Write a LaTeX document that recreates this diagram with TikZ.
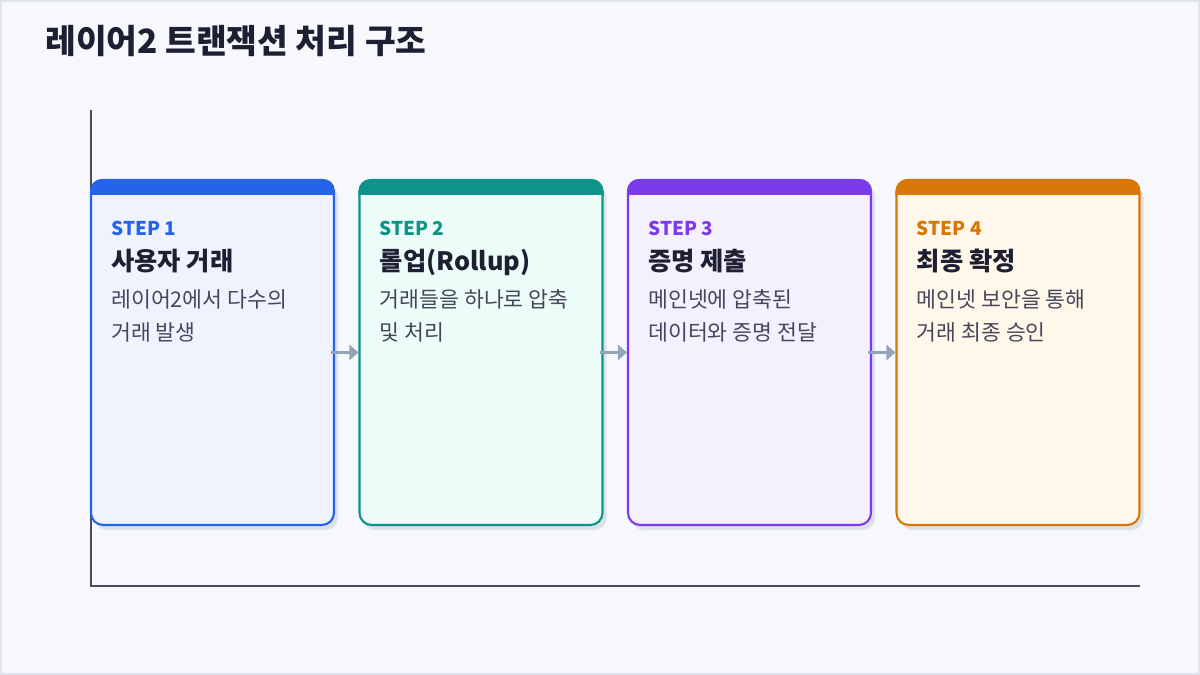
\documentclass[tikz,border=0pt]{standalone}
\usepackage{fontspec}
\setmainfont{Noto Sans CJK KR}
\usetikzlibrary{calc,arrows.meta}

\definecolor{pagebg}{HTML}{F7F8FC}
\definecolor{pageframe}{HTML}{E1E4EB}
\definecolor{inkdark}{HTML}{1F1F33}
\definecolor{inkgray}{HTML}{474759}
\definecolor{axisgray}{HTML}{4A4A5C}
\definecolor{flowgray}{HTML}{94A3B8}
\definecolor{shadegray}{HTML}{DDE1E8}
\definecolor{stepblue}{HTML}{2563EB}
\definecolor{steptealc}{HTML}{0D9488}
\definecolor{steppurple}{HTML}{7C3AED}
\definecolor{steporange}{HTML}{D97706}
\definecolor{fillblue}{HTML}{EEF3FE}
\definecolor{filltealc}{HTML}{ECFCF8}
\definecolor{fillpurple}{HTML}{F4F0FE}
\definecolor{fillorange}{HTML}{FFF7EA}

\tikzset{
  card/.style={draw=#1,line width=1.2pt,rounded corners=0.24cm,
    minimum width=4.86cm,minimum height=6.9cm,inner sep=0pt},
  steplbl/.style={anchor=base west,inner sep=0pt,font=\bfseries\fontsize{10.8}{12}\selectfont},
  headlbl/.style={anchor=base west,inner sep=0pt,text=inkdark,font=\bfseries\fontsize{14.4}{17}\selectfont},
  desclbl/.style={anchor=base west,inner sep=0pt,text=inkgray,font=\fontsize{12.3}{15}\selectfont},
  flow/.style={flowgray,line width=2.2pt,-{Triangle[length=0.18cm,width=0.3cm]}}
}

\begin{document}
\begin{tikzpicture}[x=0.02cm,y=-0.02cm]
  \useasboundingbox (0,0) rectangle (1200,675);
  \fill[pagebg] (0,0) rectangle (1200,675); % fond
  \draw[pageframe,line width=1.1pt] (1,1) rectangle (1199,674);
  \node[anchor=base west,inner sep=0pt,text=inkdark,font=\bfseries\fontsize{19}{22}\selectfont]
    (title) at (45,54) {레이어2 트랜잭션 처리 구조};

  % axes
  \coordinate (ytop) at (91,110); \coordinate (orig) at (91,586);
  \coordinate (xend) at (1140,586);
  \draw[axisgray,line width=0.9pt] (ytop) -- (orig) -- (xend);

  % cartes
  \foreach \i/\x/\col/\fil/\head/\lineA/\lineB in {
    1/212.5/stepblue/fillblue/{사용자 거래}/{레이어2에서 다수의}/{거래 발생},
    2/481/steptealc/filltealc/{롤업(Rollup)}/{거래들을 하나로 압축}/{및 처리},
    3/749.5/steppurple/fillpurple/{증명 제출}/{메인넷에 압축된}/{데이터와 증명 전달},
    4/1018/steporange/fillorange/{최종 확정}/{메인넷 보안을 통해}/{거래 최종 승인}} {
    \fill[shadegray,rounded corners=0.24cm] (\x-117.5,185) rectangle (\x+125.5,530);
    \node[card=\col,fill=\fil] (c\i) at (\x,352.5) {};
    \begin{scope}
      \clip[rounded corners=0.24cm] (c\i.south west) rectangle (c\i.north east);
      \fill[\col] (c\i.north west) rectangle ($(c\i.north east)+(0,16)$); % bandeau
    \end{scope}
    \node[steplbl,text=\col] (s\i) at ($(c\i.north west)+(21,57)$) {STEP \i};
    \node[headlbl] (h\i) at ($(c\i.north west)+(21,92)$) {\head};
    \node[desclbl] (d\i) at ($(c\i.north west)+(21,129)$) {\lineA};
    \node[desclbl] (e\i) at ($(c\i.north west)+(21,162)$) {\lineB};
  }

  % fleches
  \foreach \a/\b in {1/2,2/3,3/4}
    \draw[flow] ([xshift=-0.08cm]c\a.east) -- (c\b.west);
\end{tikzpicture}
\end{document}
